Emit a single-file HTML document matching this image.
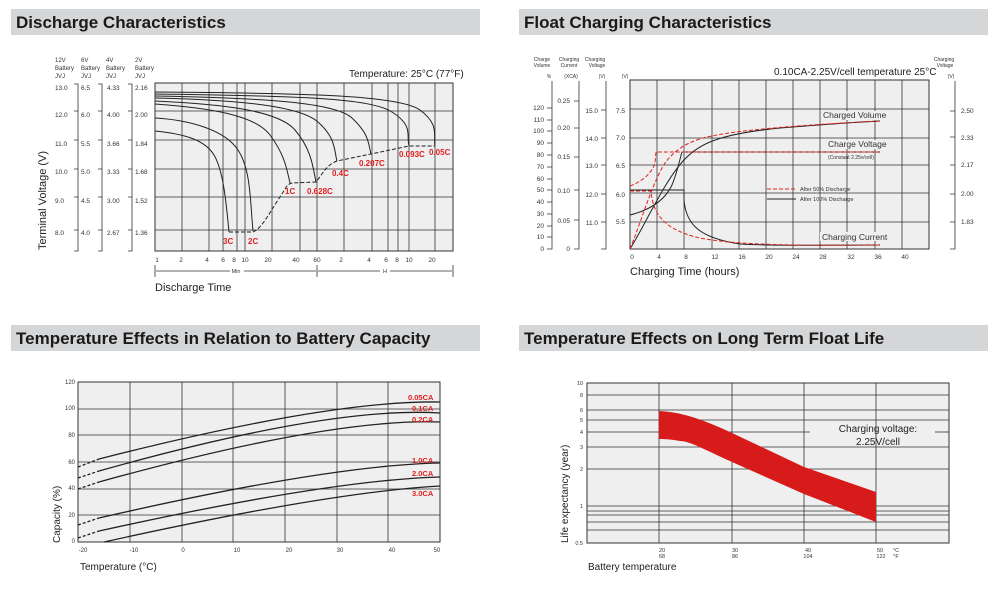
<!DOCTYPE html>
<html><head><meta charset="utf-8"><style>
html,body{margin:0;padding:0;background:#fff;}
svg{display:block;font-family:"Liberation Sans",sans-serif;}
</style></head><body>
<svg width="1000" height="599" viewBox="0 0 1000 599" xmlns="http://www.w3.org/2000/svg">
<rect x="11" y="9" width="469" height="26" fill="#d5d6d8"/>
<rect x="519" y="9" width="469" height="26" fill="#d5d6d8"/>
<rect x="11" y="325" width="469" height="26" fill="#d5d6d8"/>
<rect x="519" y="325" width="469" height="26" fill="#d5d6d8"/>
<g font-weight="bold" font-size="17" fill="#1a1a1a">
<text x="16" y="28">Discharge Characteristics</text>
<text x="524" y="28">Float Charging Characteristics</text>
<text x="16" y="344">Temperature Effects in Relation to Battery Capacity</text>
<text x="524" y="344">Temperature Effects on Long Term Float Life</text>
</g>

<!-- ============ Panel 1 ============ -->
<rect x="155" y="83" width="298" height="168" fill="#efefef" stroke="#333" stroke-width="1"/>
<g stroke="#333" stroke-width="0.8">
<line x1="155" y1="111" x2="453" y2="111"/><line x1="155" y1="140" x2="453" y2="140"/>
<line x1="155" y1="169" x2="453" y2="169"/><line x1="155" y1="197" x2="453" y2="197"/>
<line x1="155" y1="230" x2="453" y2="230"/>
<line x1="182" y1="83" x2="182" y2="251"/><line x1="209" y1="83" x2="209" y2="251"/>
<line x1="223" y1="83" x2="223" y2="251"/><line x1="237" y1="83" x2="237" y2="251"/>
<line x1="245" y1="83" x2="245" y2="251"/><line x1="272" y1="83" x2="272" y2="251"/>
<line x1="300" y1="83" x2="300" y2="251"/><line x1="317" y1="83" x2="317" y2="251"/>
<line x1="344" y1="83" x2="344" y2="251"/><line x1="372" y1="83" x2="372" y2="251"/>
<line x1="388" y1="83" x2="388" y2="251"/><line x1="398" y1="83" x2="398" y2="251"/>
<line x1="409" y1="83" x2="409" y2="251"/><line x1="435" y1="83" x2="435" y2="251"/>
</g>
<g fill="none" stroke="#222" stroke-width="1">
<path d="M155,92 C300,93 400,95 420,110 S433,135 435,146"/>
<path d="M155,94 C300,96 370,98 392,112 S406,135 409,146"/>
<path d="M155,96 C260,98 335,102 352,118 S368,142 371,154"/>
<path d="M155,98 C240,100 300,106 318,122 S334,150 337,161"/>
<path d="M155,101 C220,104 278,110 295,130 S313,168 316,182"/>
<path d="M155,104 C210,108 255,115 270,135 S287,170 290,183"/>
<path d="M155,118 C190,120 225,130 238,150 S250,200 253,231"/>
<path d="M155,131 C185,134 205,140 214,155 S226,200 229,232"/>
<path d="M229,232 L253,232 C262,228 268,215 278,200 S286,185 292,183 L316,182 C322,175 326,165 337,161 L371,154 L409,146 L435,146" stroke-dasharray="4,2"/>
</g>
<g fill="#e02020" font-size="8" font-weight="bold">
<text x="223" y="244">3C</text><text x="248" y="244">2C</text>
<text x="285" y="194">1C</text><text x="307" y="194">0.628C</text>
<text x="332" y="176">0.4C</text><text x="359" y="166">0.207C</text>
<text x="399" y="157">0.093C</text><text x="429" y="155">0.05C</text>
</g>
<g font-size="6.5" fill="#333" text-anchor="middle">
<text x="157" y="262">1</text><text x="181" y="262">2</text><text x="207" y="262">4</text>
<text x="223" y="262">6</text><text x="234" y="262">8</text><text x="245" y="262">10</text>
<text x="268" y="262">20</text><text x="296" y="262">40</text><text x="317" y="262">60</text>
<text x="341" y="262">2</text><text x="369" y="262">4</text><text x="386" y="262">6</text>
<text x="397" y="262">8</text><text x="409" y="262">10</text><text x="432" y="262">20</text>
<text x="236" y="273" font-size="5.5">Min</text><text x="385" y="273" font-size="5.5">H</text>
</g>
<g stroke="#333" stroke-width="0.8">
<line x1="155" y1="265" x2="155" y2="277"/><line x1="317" y1="265" x2="317" y2="277"/><line x1="453" y1="265" x2="453" y2="277"/>
<line x1="156" y1="271" x2="230" y2="271"/><line x1="244" y1="271" x2="316" y2="271"/>
<line x1="318" y1="271" x2="380" y2="271"/><line x1="390" y1="271" x2="452" y2="271"/>
</g>
<text x="155" y="291" font-size="11" fill="#222">Discharge Time</text>
<text x="349" y="77" font-size="10" fill="#222">Temperature: 25°C (77°F)</text>
<g font-size="6" fill="#333">
<text x="55" y="62">12V</text><text x="55" y="70">Battery</text><text x="55" y="78">JVJ</text>
<text x="81" y="62">6V</text><text x="81" y="70">Battery</text><text x="81" y="78">JVJ</text>
<text x="106" y="62">4V</text><text x="106" y="70">Battery</text><text x="106" y="78">JVJ</text>
<text x="135" y="62">2V</text><text x="135" y="70">Battery</text><text x="135" y="78">JVJ</text>
</g>
<g font-size="6.5" fill="#333">
<text x="55" y="90">13.0</text><text x="55" y="117">12.0</text><text x="55" y="146">11.0</text>
<text x="55" y="174">10.0</text><text x="55" y="203">9.0</text><text x="55" y="235">8.0</text>
<text x="81" y="90">6.5</text><text x="81" y="117">6.0</text><text x="81" y="146">5.5</text>
<text x="81" y="174">5.0</text><text x="81" y="203">4.5</text><text x="81" y="235">4.0</text>
<text x="107" y="90">4.33</text><text x="107" y="117">4.00</text><text x="107" y="146">3.66</text>
<text x="107" y="174">3.33</text><text x="107" y="203">3.00</text><text x="107" y="235">2.67</text>
<text x="135" y="90">2.16</text><text x="135" y="117">2.00</text><text x="135" y="146">1.84</text>
<text x="135" y="174">1.68</text><text x="135" y="203">1.52</text><text x="135" y="235">1.36</text>
</g>
<g stroke="#333" stroke-width="0.8" fill="none">
<path d="M74,84 H78 V251 H74 M74,111 H78 M74,140 H78 M74,169 H78 M74,197 H78 M74,230 H78"/>
<path d="M98,84 H102 V251 H98 M98,111 H102 M98,140 H102 M98,169 H102 M98,197 H102 M98,230 H102"/>
<path d="M128,84 H132 V251 H128 M128,111 H132 M128,140 H132 M128,169 H132 M128,197 H132 M128,230 H132"/>
</g>
<text transform="translate(46,250) rotate(-90)" font-size="11" fill="#222">Terminal Voltage (V)</text>

<!-- ============ Panel 2 ============ -->
<rect x="630" y="80" width="299" height="169" fill="#efefef" stroke="#333" stroke-width="1"/>
<g stroke="#333" stroke-width="0.8">
<line x1="630" y1="109" x2="929" y2="109"/><line x1="630" y1="138" x2="929" y2="138"/>
<line x1="630" y1="165" x2="929" y2="165"/><line x1="630" y1="193" x2="929" y2="193"/>
<line x1="630" y1="222" x2="929" y2="222"/>
<line x1="657" y1="80" x2="657" y2="249"/><line x1="684" y1="80" x2="684" y2="249"/>
<line x1="712" y1="80" x2="712" y2="249"/><line x1="739" y1="80" x2="739" y2="249"/>
<line x1="766" y1="80" x2="766" y2="249"/><line x1="793" y1="80" x2="793" y2="249"/>
<line x1="820" y1="80" x2="820" y2="249"/><line x1="847" y1="80" x2="847" y2="249"/>
<line x1="875" y1="80" x2="875" y2="249"/><line x1="902" y1="80" x2="902" y2="249"/>
</g>
<rect x="822" y="111" width="60" height="9" fill="#efefef"/>
<rect x="826" y="140" width="58" height="9" fill="#efefef"/>
<rect x="820" y="232" width="64" height="9" fill="#efefef"/>
<g fill="none" stroke="#222" stroke-width="1">
<path d="M630,249 C645,225 665,180 684,160 C700,143 720,134 780,128 C830,124 860,122 880,121"/>
<path d="M630,215 C650,210 665,200 672,185 C678,170 680,158 682,152 L880,152"/>
<path d="M630,190 L684,190 L684,200 C686,225 700,238 740,244 C770,246 820,245 880,245"/>
</g>
<g fill="none" stroke="#e02020" stroke-width="1" stroke-dasharray="4,2">
<path d="M630,249 C640,225 650,190 662,168 C672,150 690,140 712,136 C740,130 800,125 880,121"/>
<path d="M630,186 C645,180 652,172 655,163 L656,152 L880,152"/>
<path d="M630,191 L651,191 C653,215 665,230 700,238 C730,244 780,246 880,245"/>
</g>
<g font-size="8.5" fill="#333">
<text x="823" y="118">Charged Volume</text><text x="828" y="147">Charge Voltage</text>
<text x="822" y="240">Charging Current</text>
</g>
<text x="828" y="159" font-size="5" fill="#333">(Constant 2.25v/cell)</text>
<line x1="767" y1="189" x2="796" y2="189" stroke="#e02020" stroke-dasharray="4,2"/>
<line x1="767" y1="199" x2="796" y2="199" stroke="#222"/>
<g font-size="5.5" fill="#333"><text x="800" y="191">After  50% Discharge</text><text x="800" y="201">After 100% Discharge</text></g>
<g font-size="6.5" fill="#333" text-anchor="middle">
<text x="632" y="259">0</text><text x="659" y="259">4</text><text x="686" y="259">8</text>
<text x="715" y="259">12</text><text x="742" y="259">16</text><text x="769" y="259">20</text>
<text x="796" y="259">24</text><text x="823" y="259">28</text><text x="851" y="259">32</text>
<text x="878" y="259">36</text><text x="905" y="259">40</text>
</g>
<text x="630" y="275" font-size="11" fill="#222">Charging Time (hours)</text>
<text x="774" y="75" font-size="10" fill="#222">0.10CA-2.25V/cell  temperature 25°C</text>
<g font-size="5" fill="#333" text-anchor="middle">
<text x="542" y="61">Charge</text><text x="542" y="67">Volume</text><text x="549" y="78">%</text>
<text x="569" y="61">Charging</text><text x="569" y="67">Current</text><text x="571" y="78">(XCA)</text>
<text x="595" y="61">Charging</text><text x="597" y="67">Voltage</text><text x="602" y="78">(V)</text>
<text x="625" y="78">(V)</text>
<text x="944" y="61">Charging</text><text x="945" y="67">Voltage</text><text x="951" y="78">(V)</text>
</g>
<g stroke="#333" stroke-width="0.8" fill="none">
<path d="M552,81 V249 H547 M547,108 H552 M547,120 H552 M547,131 H552 M547,143 H552 M547,155 H552 M547,167 H552 M547,179 H552 M547,190 H552 M547,202 H552 M547,214 H552 M547,226 H552 M547,237 H552"/>
<path d="M579,81 V249 H574 M574,101 H579 M574,128 H579 M574,157 H579 M574,190 H579 M574,220 H579"/>
<path d="M606,81 V249 H601 M601,110 H606 M601,138 H606 M601,165 H606 M601,194 H606 M601,222 H606"/>
<path d="M955,81 V249 H950 M950,111 H955 M950,137 H955 M950,165 H955 M950,194 H955 M950,222 H955"/>
</g>
<g font-size="6.5" fill="#333" text-anchor="end">
<text x="544" y="110">120</text><text x="544" y="122">110</text><text x="544" y="133">100</text>
<text x="544" y="145">90</text><text x="544" y="157">80</text><text x="544" y="169">70</text>
<text x="544" y="181">60</text><text x="544" y="192">50</text><text x="544" y="204">40</text>
<text x="544" y="216">30</text><text x="544" y="228">20</text><text x="544" y="239">10</text>
<text x="544" y="251">0</text>
<text x="570" y="103">0.25</text><text x="570" y="130">0.20</text><text x="570" y="159">0.15</text>
<text x="570" y="193">0.10</text><text x="570" y="223">0.05</text><text x="570" y="251">0</text>
<text x="598" y="113">15.0</text><text x="598" y="141">14.0</text><text x="598" y="168">13.0</text>
<text x="598" y="197">12.0</text><text x="598" y="225">11.0</text>
<text x="625" y="113">7.5</text><text x="625" y="140">7.0</text><text x="625" y="168">6.5</text>
<text x="625" y="197">6.0</text><text x="625" y="224">5.5</text>
</g>
<g font-size="6.5" fill="#333">
<text x="961" y="113">2.50</text><text x="961" y="140">2.33</text><text x="961" y="167">2.17</text>
<text x="961" y="196">2.00</text><text x="961" y="224">1.83</text>
</g>

<!-- ============ Panel 3 ============ -->
<rect x="78" y="382" width="362" height="160" fill="#efefef" stroke="#333" stroke-width="1"/>
<g stroke="#333" stroke-width="0.8">
<line x1="78" y1="409" x2="440" y2="409"/><line x1="78" y1="435" x2="440" y2="435"/>
<line x1="78" y1="462" x2="440" y2="462"/><line x1="78" y1="489" x2="440" y2="489"/>
<line x1="78" y1="515" x2="440" y2="515"/>
<line x1="130" y1="382" x2="130" y2="542"/><line x1="182" y1="382" x2="182" y2="542"/>
<line x1="233" y1="382" x2="233" y2="542"/><line x1="285" y1="382" x2="285" y2="542"/>
<line x1="337" y1="382" x2="337" y2="542"/><line x1="388" y1="382" x2="388" y2="542"/>
</g>
<g fill="none" stroke="#222" stroke-width="1.3">
<path d="M99,459 Q330,400 440,402"/>
<path d="M99,471 Q330,406 440,413"/>
<path d="M99,482 Q330,418 440,422"/>
<path d="M99,518 Q330,465 440,463"/>
<path d="M99,531 Q330,480 440,477"/>
<path d="M104,542 Q330,492 440,486"/>
</g>
<g fill="none" stroke="#222" stroke-width="1.3" stroke-dasharray="3,2">
<path d="M78,467 L99,459"/><path d="M78,478 L99,471"/><path d="M78,489 L99,482"/>
<path d="M78,525 L99,518"/><path d="M78,538 L99,531"/>
</g>
<g fill="#e02020" font-size="7.5" font-weight="bold">
<text x="408" y="400">0.05CA</text><text x="412" y="411">0.1CA</text><text x="412" y="422">0.2CA</text>
<text x="412" y="463">1.0CA</text><text x="412" y="476">2.0CA</text><text x="412" y="496">3.0CA</text>
</g>
<g font-size="6" fill="#333" text-anchor="end">
<text x="75" y="384">120</text><text x="75" y="410">100</text><text x="75" y="437">80</text>
<text x="75" y="464">60</text><text x="75" y="490">40</text><text x="75" y="517">20</text><text x="75" y="543">0</text>
</g>
<g font-size="6" fill="#333" text-anchor="middle">
<text x="83" y="552">-20</text><text x="134" y="552">-10</text><text x="183" y="552">0</text>
<text x="237" y="552">10</text><text x="289" y="552">20</text><text x="340" y="552">30</text>
<text x="392" y="552">40</text><text x="437" y="552">50</text>
</g>
<text x="80" y="570" font-size="10" fill="#222">Temperature (°C)</text>
<text transform="translate(60,543) rotate(-90)" font-size="10" fill="#222">Capacity (%)</text>

<!-- ============ Panel 4 ============ -->
<rect x="587" y="383" width="362" height="160" fill="#efefef" stroke="#333" stroke-width="1"/>
<g stroke="#333" stroke-width="0.8">
<line x1="587" y1="395" x2="949" y2="395"/><line x1="587" y1="410" x2="949" y2="410"/>
<line x1="587" y1="420" x2="949" y2="420"/>
<line x1="587" y1="432" x2="810" y2="432"/><line x1="935" y1="432" x2="949" y2="432"/>
<line x1="587" y1="447" x2="949" y2="447"/><line x1="587" y1="469" x2="949" y2="469"/>
<line x1="587" y1="506" x2="949" y2="506"/><line x1="587" y1="511" x2="949" y2="511"/>
<line x1="587" y1="515" x2="949" y2="515"/><line x1="587" y1="522" x2="949" y2="522"/>
<line x1="587" y1="530" x2="949" y2="530"/>
<line x1="659" y1="383" x2="659" y2="543"/><line x1="732" y1="383" x2="732" y2="543"/>
<line x1="804" y1="383" x2="804" y2="543"/><line x1="876" y1="383" x2="876" y2="543"/>
</g>
<path d="M659,411 C680,412 700,418 732,433 L804,467 L876,492 L876,522 L804,494 L732,462 C705,450 690,441 680,441 C670,439 662,439 659,439 Z" fill="#d71a1a"/>
<g font-size="10" fill="#222" text-anchor="middle">
<text x="878" y="432">Charging voltage:</text><text x="878" y="445">2.25V/cell</text>
</g>
<g font-size="5.5" fill="#333" text-anchor="end">
<text x="583" y="385">10</text><text x="583" y="397">8</text><text x="583" y="412">6</text>
<text x="583" y="422">5</text><text x="583" y="434">4</text><text x="583" y="449">3</text>
<text x="583" y="471">2</text><text x="583" y="508">1</text><text x="583" y="545">0.5</text>
</g>
<g font-size="5.5" fill="#333" text-anchor="middle">
<text x="662" y="552">20</text><text x="662" y="558">68</text>
<text x="735" y="552">30</text><text x="735" y="558">86</text>
<text x="808" y="552">40</text><text x="808" y="558">104</text>
<text x="880" y="552">50</text><text x="881" y="558">122</text>
<text x="896" y="552">°C</text><text x="896" y="558">°F</text>
</g>
<text x="588" y="570" font-size="10" fill="#222">Battery temperature</text>
<text transform="translate(568,543) rotate(-90)" font-size="10" fill="#222">Life expectancy (year)</text>
</svg>
</body></html>
